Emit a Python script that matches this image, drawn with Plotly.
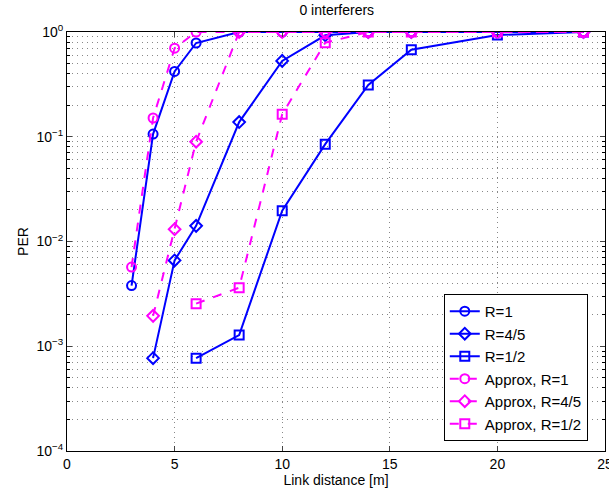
import plotly.graph_objects as go

x_r1 = [3, 4, 5, 6, 8, 10, 12, 14, 16, 20, 24]
per_r1 = [0.0038, 0.106, 0.42, 0.785, 1, 1, 1, 1, 1, 1, 1]
x_r45 = [4, 5, 6, 8, 10, 12, 14, 16, 20, 24]
per_r45 = [0.00077, 0.0066, 0.0141, 0.138, 0.53, 0.93, 1, 1, 1, 1]
x_r12 = [6, 8, 10, 12, 14, 16, 20, 24]
per_r12 = [0.00077, 0.00128, 0.0197, 0.085, 0.312, 0.678, 0.935, 1]

x_a1 = [3, 4, 5, 6, 8, 10, 12, 14, 16, 20, 24]
per_a1 = [0.0057, 0.151, 0.70, 1, 1, 1, 1, 1, 1, 1, 1]
x_a45 = [4, 5, 6, 8, 10, 12, 14, 16, 20, 24]
per_a45 = [0.00195, 0.0131, 0.0897, 1, 1, 1, 1, 1, 1, 1]
x_a12 = [6, 8, 10, 12, 14, 16, 20, 24]
per_a12 = [0.00255, 0.00362, 0.164, 0.79, 1, 1, 1, 1]

y_tickvals = [1e-4, 1e-3, 1e-2, 1e-1, 1]
y_ticktext = ["10<sup>−4</sup>", "10<sup>−3</sup>", "10<sup>−2</sup>", "10<sup>−1</sup>", "10<sup>0</sup>"]
x_tickvals = [0, 5, 10, 15, 20, 25]

BLUE = "#0000ff"
MAG = "#ff00ff"
FONT = "Liberation Sans, Arial, sans-serif"

series = [
    ("R=1", x_r1, per_r1, BLUE, "solid", "circle-open"),
    ("R=4/5", x_r45, per_r45, BLUE, "solid", "diamond-open"),
    ("R=1/2", x_r12, per_r12, BLUE, "solid", "square-open"),
    ("Approx, R=1", x_a1, per_a1, MAG, "dash", "circle-open"),
    ("Approx, R=4/5", x_a45, per_a45, MAG, "dash", "diamond-open"),
    ("Approx, R=1/2", x_a12, per_a12, MAG, "dash", "square-open"),
]

fig = go.Figure()
for name, xs, ys, col, dash, sym in series:
    fig.add_trace(go.Scatter(
        x=xs, y=ys, name=name, mode="lines+markers",
        line=dict(color=col, width=2, dash=dash),
        marker=dict(symbol=sym, size=9, color=col, line=dict(width=2, color=col)),
    ))

GRID = "#888888"
GDASH = "1px,4px"

fig.update_layout(
    width=609, height=495,
    margin=dict(l=67, r=4, t=32, b=44, autoexpand=False),
    paper_bgcolor="white", plot_bgcolor="white",
    font=dict(family=FONT, size=14, color="black"),
    title=dict(text="0 interferers", x=0.553, xanchor="center", y=0.99, yanchor="top",
               font=dict(family=FONT, size=14, color="black")),
    legend=dict(x=0.968, xanchor="right", y=0.024, yanchor="bottom",
                bgcolor="white", bordercolor="black", borderwidth=1,
                font=dict(family=FONT, size=15, color="black"), tracegroupgap=0,
                itemwidth=30),
)
fig.update_xaxes(
    range=[0, 25], tickvals=x_tickvals, ticks="inside", ticklen=5,
    tickfont=dict(family=FONT, size=14, color="black"), ticklabeloverflow="allow",
    showline=True, linecolor="black", linewidth=1, mirror="ticks",
    showgrid=True, gridcolor=GRID, griddash=GDASH, gridwidth=1,
    zeroline=False,
    title=dict(text="Link distance [m]", standoff=0, font=dict(family=FONT, size=14, color="black")),
)
fig.update_yaxes(
    type="log", range=[-4, 0], tickvals=y_tickvals, ticktext=y_ticktext,
    ticks="inside", ticklen=5,
    tickfont=dict(family=FONT, size=14, color="black"),
    showline=True, linecolor="black", linewidth=1, mirror="ticks",
    showgrid=True, gridcolor=GRID, griddash=GDASH, gridwidth=1,
    minor=dict(dtick="D1", showgrid=True, gridcolor=GRID, griddash=GDASH,
               ticks="inside", ticklen=3, tickcolor="black"),
    zeroline=False,
    title=dict(text="PER", standoff=4, font=dict(family=FONT, size=14, color="black")),
)

fig.write_html("out.html", config={"displayModeBar": False},
               post_script="document.body.style.margin='0';document.body.style.overflow='hidden';")
